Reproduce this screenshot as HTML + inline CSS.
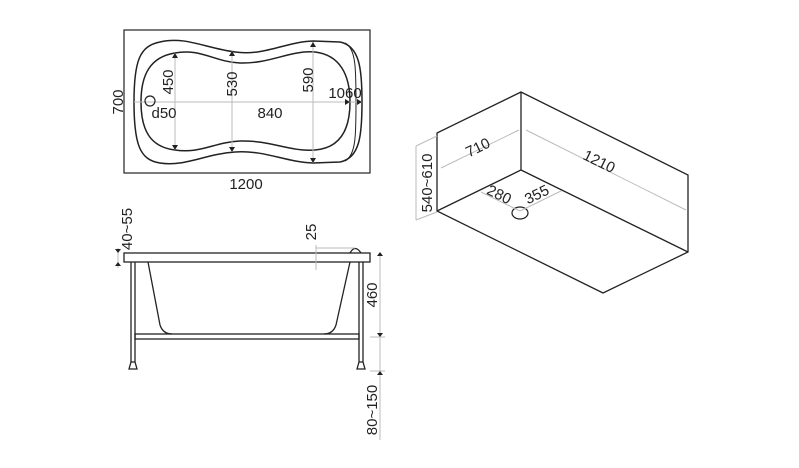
<!DOCTYPE html>
<html><head><style>body{margin:0;background:#fff}svg{display:block}text{font-family:"Liberation Sans",sans-serif;fill:#222}</style></head>
<body>
<svg width="799" height="468" viewBox="0 0 799 468" xmlns="http://www.w3.org/2000/svg">
<g fill="none" stroke="#222" stroke-width="1.5">
<rect x="124" y="30" width="246" height="143" stroke-width="1.2"/>
<path d="M160,42 C185,36 205,48 235,52 C265,56 285,42 313,41 L340,42 C360,46 362,70 362,102 C362,135 360,158 340,162 L313,163 C285,162 265,150 235,152 C205,154 185,167 160,163 C140,160 134,145 134,102 C134,60 140,46 160,42 Z"/>
<path d="M345,43 C356,48 356,70 356,102 C356,135 356,155 345,161" stroke-width="1"/>
<path d="M175,53 C200,48 215,62 240,63 C270,64 290,50 315,52 C340,55 350,75 350,102 C350,130 340,148 315,150 C290,152 270,140 240,141 C215,142 200,154 175,150 C150,147 141,130 141,102 C141,75 150,57 175,53 Z"/>
</g>
<g stroke="#bbb" stroke-width="1" fill="none">
<line x1="134" y1="102" x2="362" y2="102"/>
<line x1="175" y1="53" x2="175" y2="150"/>
<line x1="232" y1="51" x2="232" y2="152"/>
<line x1="313" y1="42" x2="313" y2="163"/>
</g>
<g fill="#222">
<path d="M172,58 L178,58 L175,53 Z"/><path d="M172,145 L178,145 L175,150 Z"/>
<path d="M229,56 L235,56 L232,51 Z"/><path d="M229,147 L235,147 L232,152 Z"/>
<path d="M310,47 L316,47 L313,42 Z"/><path d="M310,158 L316,158 L313,163 Z"/>
<path d="M345,99 L345,105 L350,102 Z"/><path d="M357,99 L357,105 L362,102 Z"/>
</g>
<circle cx="150" cy="101" r="5" fill="none" stroke="#222" stroke-width="1.2"/>
<g font-size="15">
<text transform="translate(123,102) rotate(-90)" text-anchor="middle">700</text>
<text transform="translate(173,82) rotate(-90)" text-anchor="middle">450</text>
<text transform="translate(237,84) rotate(-90)" text-anchor="middle">530</text>
<text transform="translate(313,80) rotate(-90)" text-anchor="middle">590</text>
<text x="345" y="98" text-anchor="middle">1060</text>
<text x="164" y="118" text-anchor="middle">d50</text>
<text x="270" y="118" text-anchor="middle">840</text>
<text x="246" y="189" text-anchor="middle">1200</text>
</g>
<g fill="none" stroke="#222" stroke-width="1.3">
<rect x="124" y="253" width="246" height="9"/>
<line x1="131" y1="262" x2="131" y2="362"/><line x1="135" y1="262" x2="135" y2="362"/>
<line x1="359" y1="262" x2="359" y2="362"/><line x1="363" y1="262" x2="363" y2="362"/>
<path d="M129,369 L131,362 L135,362 L137,369 Z"/>
<path d="M357,369 L359,362 L363,362 L365,369 Z"/>
<rect x="135" y="334" width="224" height="5"/>
<path d="M148,262 L160,325 Q163,334 172,334 M350,262 L336,325 Q333,334 324,334"/>
<path d="M350,253 Q355,244 361,253"/>
</g>
<g stroke="#bbb" stroke-width="1" fill="none">
<line x1="380" y1="253" x2="380" y2="440"/><line x1="370" y1="337" x2="385" y2="337"/><line x1="370" y1="371" x2="385" y2="371"/>
<line x1="118" y1="248" x2="118" y2="268"/><line x1="316" y1="245" x2="316" y2="270"/><line x1="316" y1="248" x2="355" y2="248"/>
</g>
<g fill="#222">
<path d="M377,256 L383,256 L380,252 Z"/><path d="M377,333 L383,333 L380,337 Z"/><path d="M377,375 L383,375 L380,371 Z"/>
<path d="M115,249 L121,249 L118,253 Z"/><path d="M115,266 L121,266 L118,262 Z"/>
</g>
<g font-size="15">
<text transform="translate(377,295) rotate(-90)" text-anchor="middle">460</text>
<text transform="translate(377,410) rotate(-90)" text-anchor="middle">80~150</text>
<text transform="translate(132,229) rotate(-90)" text-anchor="middle">40~55</text>
<text transform="translate(316,232) rotate(-90)" text-anchor="middle">25</text>
</g>
<g fill="none" stroke="#222" stroke-width="1.3">
<path d="M437,133 L521,92 L688,175 L688,252 L603,293 L437,211 Z"/>
<path d="M521,92 L521,170 L437,211 M521,170 L688,252"/>
</g>
<ellipse cx="520" cy="213" rx="8" ry="6" fill="none" stroke="#222" stroke-width="1.2"/>
<g stroke="#bbb" stroke-width="1" fill="none">
<line x1="441" y1="168" x2="519" y2="130"/><line x1="526" y1="130" x2="686" y2="210"/>
<line x1="416" y1="146" x2="416" y2="220"/><line x1="416" y1="146" x2="437" y2="136"/><line x1="416" y1="220" x2="437" y2="212"/>
<line x1="481" y1="192" x2="520" y2="211"/><line x1="520" y1="211" x2="561" y2="191"/>
</g>
<g font-size="15">
<text transform="translate(480,152) rotate(-26)" text-anchor="middle">710</text>
<text transform="translate(597,166) rotate(26)" text-anchor="middle">1210</text>
<text transform="translate(432,183) rotate(-90)" text-anchor="middle">540~610</text>
<text transform="translate(497,199) rotate(26)" text-anchor="middle">280</text>
<text transform="translate(539,199) rotate(-26)" text-anchor="middle">355</text>
</g>
</svg>
</body></html>
